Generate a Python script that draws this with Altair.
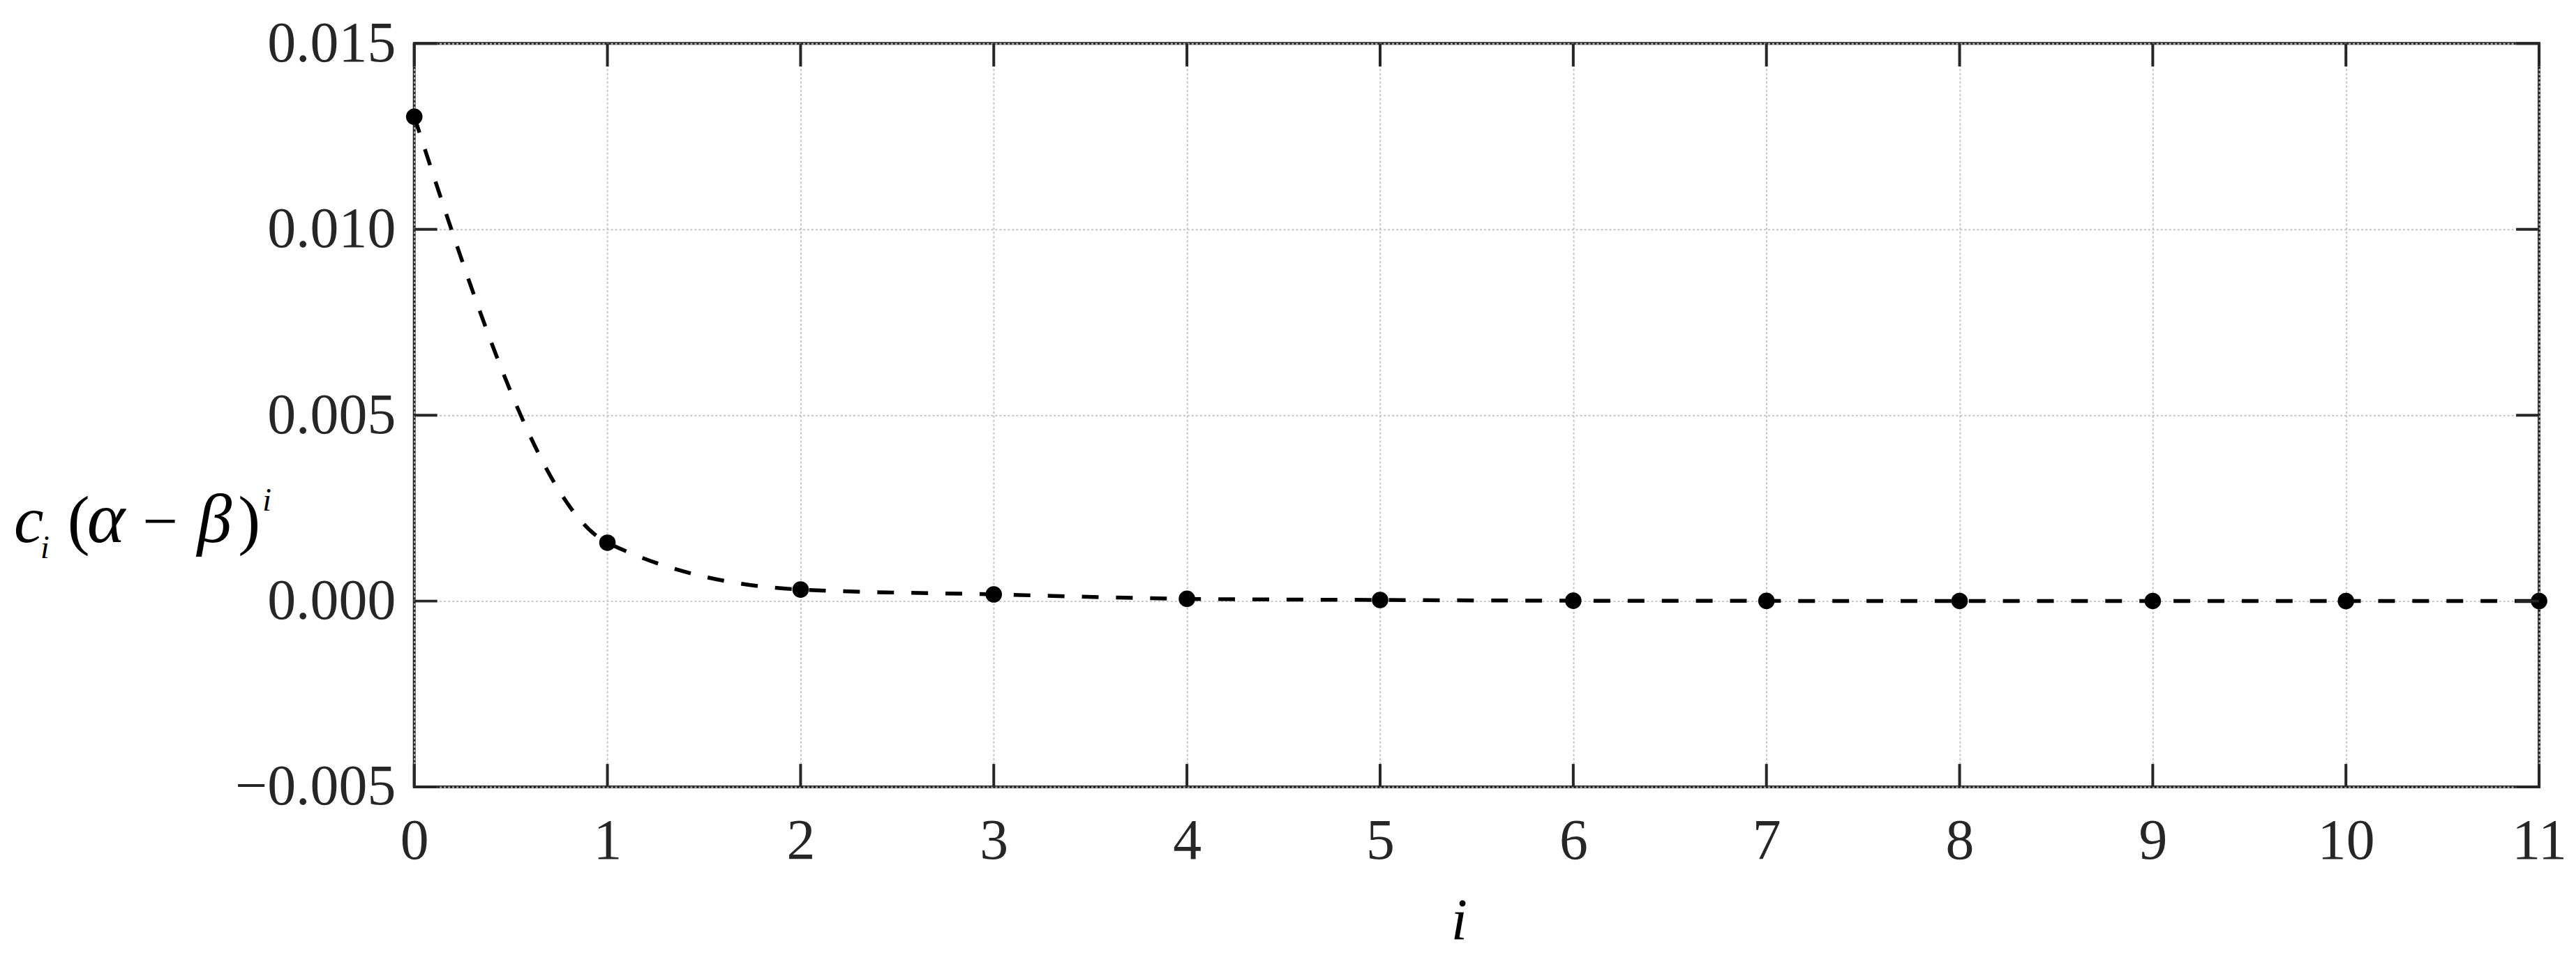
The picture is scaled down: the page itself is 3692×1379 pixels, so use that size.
import altair as alt
import pandas as pd

# ---- data ----
i_values = [0, 1, 2, 3, 4, 5, 6, 7, 8, 9, 10, 11]
term_values = [0.01303, 0.00157, 0.00031, 0.00018, 0.00006, 0.00003,
               0.00001, 0.000005, 0.000003, 0.000002, 0.000001, 0.0000005]
x_ticks = [0, 1, 2, 3, 4, 5, 6, 7, 8, 9, 10, 11]
y_ticks = [-0.005, 0.0, 0.005, 0.010, 0.015]

df = pd.DataFrame({"i": i_values, "v": term_values})
xt = pd.DataFrame({"i": x_ticks})
yt = pd.DataFrame({"v": y_ticks})
one = pd.DataFrame({"a": [0]})

W, H = 3052, 1068
TICK = 33
INK = "#262626"
FONT = "Liberation Serif"

xs = alt.Scale(domain=[0, 11], nice=False, zero=False)
ys = alt.Scale(domain=[-0.005, 0.015], nice=False, zero=False)

common = dict(grid=True, gridColor="#c4c4c4", gridDash=[3, 3], gridWidth=2,
              domain=False, ticks=False, title=None, labelFont=FONT,
              labelFontSize=82, labelColor=INK, labelOverlap=False,
              labelFlush=False, labelLimit=600)
x_axis = alt.Axis(values=x_ticks, format="d", labelPadding=103,
                  labelBaseline="alphabetic", **common)
y_axis = alt.Axis(values=y_ticks, format=".3f", labelPadding=27, **common)

X = alt.X("i:Q", scale=xs, axis=x_axis)
Y = alt.Y("v:Q", scale=ys, axis=y_axis)

line = alt.Chart(df).mark_line(
    interpolate="monotone", color="black", strokeWidth=5.5, strokeDash=[24, 25]
).encode(x=X, y=Y)

points = alt.Chart(df).mark_circle(size=560, color="black", opacity=1).encode(x=X, y=Y)

rule_style = dict(color=INK, strokeWidth=4)
tick_bottom = alt.Chart(xt).mark_rule(**rule_style).encode(
    x=X, y=alt.value(H), y2=alt.value(H - TICK))
tick_top = alt.Chart(xt).mark_rule(**rule_style).encode(
    x=X, y=alt.value(0), y2=alt.value(TICK))
tick_left = alt.Chart(yt).mark_rule(**rule_style).encode(
    y=Y, x=alt.value(0), x2=alt.value(TICK))
tick_right = alt.Chart(yt).mark_rule(**rule_style).encode(
    y=Y, x=alt.value(W), x2=alt.value(W - TICK))


def piece(txt, x, y, size=96, italic=True):
    kw = dict(text=txt, font=FONT, fontSize=size, align="left",
              baseline="alphabetic", color="black")
    if italic:
        kw["fontStyle"] = "italic"
    return alt.Chart(one).mark_text(**kw).encode(x=alt.value(x), y=alt.value(y))


ytitle = [
    piece("c", -575, 716),
    piece("i", -537, 739, size=46),
    piece("(", -498, 716, italic=False),
    piece("α", -470, 716, size=104),
    piece("−", -390, 716, size=90, italic=False),
    piece("β", -312, 716, size=100),
    piece(")", -253, 716, italic=False),
    piece("i", -218, 671, size=46),
]
xtitle = alt.Chart(one).mark_text(
    text="i", font=FONT, fontStyle="italic", fontSize=84, align="center",
    baseline="alphabetic", color="black"
).encode(x=alt.value(W / 2 - 25), y=alt.value(1287))

chart = alt.layer(
    line, points, tick_bottom, tick_top, tick_left, tick_right, xtitle, *ytitle
).properties(
    width=W, height=H,
    autosize=alt.AutoSizeParams(type="none"),
    padding={"left": 587, "top": 53, "right": 45, "bottom": 242},
).configure_view(stroke=INK, strokeWidth=4)

chart.save("out.html", embed_options={"renderer": "svg", "actions": False})
